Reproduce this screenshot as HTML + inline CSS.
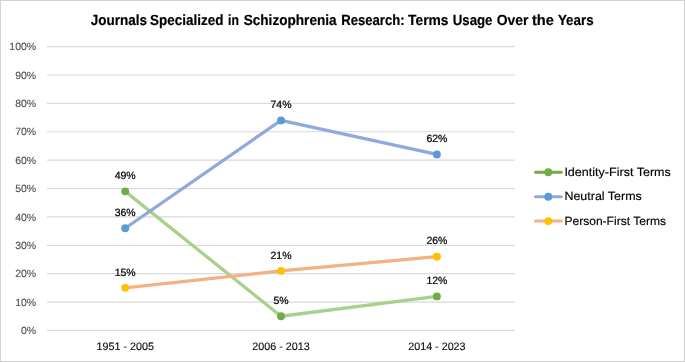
<!DOCTYPE html>
<html lang="en"><head><meta charset="utf-8"><title>Journals Specialized in Schizophrenia Research</title>
<style>
html,body{margin:0;padding:0;background:#fff;}
body{width:685px;height:362px;overflow:hidden;}
svg{display:block;font-family:"Liberation Sans",Arial,sans-serif;}
text{-webkit-font-smoothing:antialiased;text-rendering:geometricPrecision;}
svg{will-change:transform;}
.ax{fill:#505050;font-size:10.5px;stroke:#505050;stroke-width:0.12px;}
.dl{fill:#000;font-size:10.5px;stroke:#000;stroke-width:0.22px;}
.cat{fill:#111;font-size:10.8px;stroke:#111;stroke-width:0.15px;}
.lg{fill:#000;font-size:11.85px;stroke:#000;stroke-width:0.15px;}
.ttl{fill:#000;font-size:14.7px;font-weight:bold;stroke:#000;stroke-width:0.2px;}
</style></head><body>
<svg width="685" height="362" viewBox="0 0 685 362">
<rect x="0" y="0" width="685" height="362" fill="#fff"/>
<rect x="0.5" y="0.5" width="684" height="361" fill="none" stroke="#D2D2D2" stroke-width="1"/>
<text class="ttl" y="25.4"><tspan x="90.70" textLength="56.20" lengthAdjust="spacingAndGlyphs">Journals</tspan> <tspan x="150.10" textLength="73.30" lengthAdjust="spacingAndGlyphs">Specialized</tspan> <tspan x="228.10" textLength="10.80" lengthAdjust="spacingAndGlyphs">in</tspan> <tspan x="243.70" textLength="92.90" lengthAdjust="spacingAndGlyphs">Schizophrenia</tspan> <tspan x="341.30" textLength="63.30" lengthAdjust="spacingAndGlyphs">Research:</tspan> <tspan x="408.10" textLength="40.40" lengthAdjust="spacingAndGlyphs">Terms</tspan> <tspan x="452.70" textLength="39.80" lengthAdjust="spacingAndGlyphs">Usage</tspan> <tspan x="496.70" textLength="31.80" lengthAdjust="spacingAndGlyphs">Over</tspan> <tspan x="531.90" textLength="21.90" lengthAdjust="spacingAndGlyphs">the</tspan> <tspan x="557.90" textLength="35.70" lengthAdjust="spacingAndGlyphs">Years</tspan></text>
<line x1="47" x2="514.9" y1="330.45" y2="330.45" stroke="#DADADA" stroke-width="1.2"/>
<text class="ax" x="36.2" y="334.15" text-anchor="end">0%</text>
<line x1="47" x2="514.9" y1="302.06" y2="302.06" stroke="#DADADA" stroke-width="1.2"/>
<text class="ax" x="36.2" y="305.76" text-anchor="end">10%</text>
<line x1="47" x2="514.9" y1="273.68" y2="273.68" stroke="#DADADA" stroke-width="1.2"/>
<text class="ax" x="36.2" y="277.38" text-anchor="end">20%</text>
<line x1="47" x2="514.9" y1="245.30" y2="245.30" stroke="#DADADA" stroke-width="1.2"/>
<text class="ax" x="36.2" y="249.00" text-anchor="end">30%</text>
<line x1="47" x2="514.9" y1="216.91" y2="216.91" stroke="#DADADA" stroke-width="1.2"/>
<text class="ax" x="36.2" y="220.61" text-anchor="end">40%</text>
<line x1="47" x2="514.9" y1="188.53" y2="188.53" stroke="#DADADA" stroke-width="1.2"/>
<text class="ax" x="36.2" y="192.22" text-anchor="end">50%</text>
<line x1="47" x2="514.9" y1="160.14" y2="160.14" stroke="#DADADA" stroke-width="1.2"/>
<text class="ax" x="36.2" y="163.84" text-anchor="end">60%</text>
<line x1="47" x2="514.9" y1="131.76" y2="131.76" stroke="#DADADA" stroke-width="1.2"/>
<text class="ax" x="36.2" y="135.46" text-anchor="end">70%</text>
<line x1="47" x2="514.9" y1="103.37" y2="103.37" stroke="#DADADA" stroke-width="1.2"/>
<text class="ax" x="36.2" y="107.07" text-anchor="end">80%</text>
<line x1="47" x2="514.9" y1="74.99" y2="74.99" stroke="#DADADA" stroke-width="1.2"/>
<text class="ax" x="36.2" y="78.69" text-anchor="end">90%</text>
<line x1="47" x2="514.9" y1="46.60" y2="46.60" stroke="#DADADA" stroke-width="1.2"/>
<text class="ax" x="36.2" y="50.30" text-anchor="end">100%</text>
<text class="cat" x="125.2" y="349.7" text-anchor="middle" textLength="57.4" lengthAdjust="spacingAndGlyphs">1951 - 2005</text>
<text class="cat" x="281.0" y="349.7" text-anchor="middle" textLength="57.4" lengthAdjust="spacingAndGlyphs">2006 - 2013</text>
<text class="cat" x="436.9" y="349.7" text-anchor="middle" textLength="57.4" lengthAdjust="spacingAndGlyphs">2014 - 2023</text>
<polyline points="125.20,191.36 281.00,316.26 436.90,296.39" fill="none" stroke="#A9D18E" stroke-width="3.3" stroke-linecap="round" stroke-linejoin="round"/>
<polyline points="125.20,228.26 281.00,120.40 436.90,154.46" fill="none" stroke="#8FAADC" stroke-width="3.3" stroke-linecap="round" stroke-linejoin="round"/>
<polyline points="125.20,287.87 281.00,270.84 436.90,256.65" fill="none" stroke="#F4B183" stroke-width="3.3" stroke-linecap="round" stroke-linejoin="round"/>
<circle cx="125.20" cy="191.36" r="3.95" fill="#70AD47"/>
<circle cx="281.00" cy="316.26" r="3.95" fill="#70AD47"/>
<circle cx="436.90" cy="296.39" r="3.95" fill="#70AD47"/>
<circle cx="125.20" cy="228.26" r="3.95" fill="#5B9BD5"/>
<circle cx="281.00" cy="120.40" r="3.95" fill="#5B9BD5"/>
<circle cx="436.90" cy="154.46" r="3.95" fill="#5B9BD5"/>
<circle cx="125.20" cy="287.87" r="3.95" fill="#FFC000"/>
<circle cx="281.00" cy="270.84" r="3.95" fill="#FFC000"/>
<circle cx="436.90" cy="256.65" r="3.95" fill="#FFC000"/>
<text class="dl" x="125.20" y="179.06" text-anchor="middle">49%</text>
<text class="dl" x="281.00" y="303.96" text-anchor="middle">5%</text>
<text class="dl" x="436.90" y="284.09" text-anchor="middle">12%</text>
<text class="dl" x="125.20" y="215.96" text-anchor="middle">36%</text>
<text class="dl" x="281.00" y="108.10" text-anchor="middle">74%</text>
<text class="dl" x="436.90" y="142.16" text-anchor="middle">62%</text>
<text class="dl" x="125.20" y="275.57" text-anchor="middle">15%</text>
<text class="dl" x="281.00" y="258.54" text-anchor="middle">21%</text>
<text class="dl" x="436.90" y="244.35" text-anchor="middle">26%</text>
<line x1="535.5" x2="561.3" y1="172.3" y2="172.3" stroke="#70AD47" stroke-width="3" stroke-linecap="round"/>
<circle cx="548.3" cy="172.3" r="3.95" fill="#70AD47"/>
<text class="lg" x="564.4" y="176.3" textLength="106.4" lengthAdjust="spacingAndGlyphs">Identity-First Terms</text>
<line x1="535.5" x2="561.3" y1="196.8" y2="196.8" stroke="#8FAADC" stroke-width="3" stroke-linecap="round"/>
<circle cx="548.3" cy="196.8" r="3.95" fill="#5B9BD5"/>
<text class="lg" x="564.4" y="200.45" textLength="77.4" lengthAdjust="spacingAndGlyphs">Neutral Terms</text>
<line x1="535.5" x2="561.3" y1="221.1" y2="221.1" stroke="#F4B183" stroke-width="3" stroke-linecap="round"/>
<circle cx="548.3" cy="221.1" r="3.95" fill="#FFC000"/>
<text class="lg" x="564.4" y="224.9" textLength="101.6" lengthAdjust="spacingAndGlyphs">Person-First Terms</text>
</svg>
</body></html>
